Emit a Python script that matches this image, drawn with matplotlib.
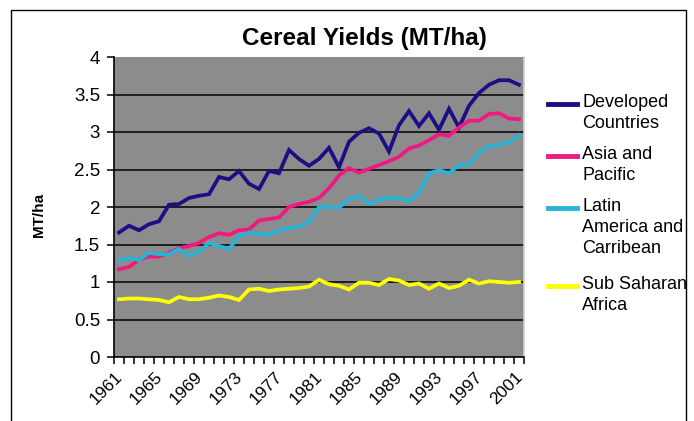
import matplotlib
matplotlib.use("Agg")
import matplotlib.pyplot as plt
import matplotlib.transforms as mtransforms
from matplotlib.lines import Line2D
from matplotlib.patches import Rectangle

plt.rcParams['font.family'] = ['Liberation Sans', 'DejaVu Sans']

years = list(range(1961, 2002))
developed = [1.66, 1.75, 1.69, 1.77, 1.81, 2.03, 2.04, 2.12, 2.15, 2.17, 2.40, 2.37, 2.48,
             2.31, 2.24, 2.48, 2.45, 2.76, 2.64, 2.55, 2.64, 2.79, 2.53, 2.87, 2.99, 3.05,
             2.98, 2.74, 3.09, 3.28, 3.08, 3.25, 3.03, 3.31, 3.06, 3.35, 3.52, 3.63, 3.69,
             3.69, 3.63]
asia = [1.17, 1.20, 1.30, 1.34, 1.34, 1.39, 1.45, 1.48, 1.52, 1.60, 1.65, 1.63, 1.69,
        1.70, 1.82, 1.84, 1.86, 2.00, 2.04, 2.07, 2.12, 2.25, 2.42, 2.52, 2.46, 2.51,
        2.56, 2.61, 2.67, 2.78, 2.82, 2.89, 2.97, 2.95, 3.06, 3.15, 3.15, 3.24, 3.25,
        3.18, 3.17]
latin = [1.28, 1.33, 1.29, 1.39, 1.37, 1.37, 1.44, 1.35, 1.40, 1.52, 1.48, 1.44, 1.61,
         1.66, 1.64, 1.63, 1.69, 1.72, 1.74, 1.80, 2.00, 2.00, 1.99, 2.11, 2.15, 2.04,
         2.10, 2.12, 2.12, 2.08, 2.19, 2.45, 2.49, 2.45, 2.56, 2.57, 2.72, 2.81, 2.83,
         2.86, 2.96]
africa = [0.77, 0.78, 0.78, 0.77, 0.76, 0.73, 0.80, 0.77, 0.77, 0.79, 0.82, 0.80, 0.76,
          0.90, 0.91, 0.88, 0.90, 0.91, 0.92, 0.94, 1.03, 0.97, 0.95, 0.90, 0.99, 0.99,
          0.96, 1.04, 1.02, 0.96, 0.98, 0.91, 0.98, 0.92, 0.95, 1.03, 0.98, 1.01, 1.00,
          0.99, 1.00]
series_names = ["Developed\nCountries", "Asia and\nPacific", "Latin\nAmerica and\nCarribean",
                "Sub Saharan\nAfrica"]
colors = ["#1c0f85", "#f0197f", "#28b4d6", "#ffff00"]
yticks = [0, 0.5, 1, 1.5, 2, 2.5, 3, 3.5, 4]
ytick_labels = ["0", "0.5", "1", "1.5", "2", "2.5", "3", "3.5", "4"]
xlabel_years = list(range(1961, 2002, 4))

W, H = 694, 421
fig = plt.figure(figsize=(W / 100, H / 100), dpi=100)
fig.patch.set_facecolor("white")

# outer frame
fig.patches.append(Rectangle((10.5 / W, -0.05), (686 - 10.5) / W, 1.05 - 10 / H,
                             transform=fig.transFigure, fill=False,
                             edgecolor="black", linewidth=1.0))

left, right, top, bottom = 114, 524, 57, 357
ax = fig.add_axes([left / W, (H - bottom) / H, (right - left) / W, (bottom - top) / H])
ax.set_facecolor("#8c8c8c")

x = list(range(len(years)))
for vals, c in zip([developed, asia, latin, africa], colors):
    ax.plot(x, vals, color=c, linewidth=2.7, solid_joinstyle="miter", zorder=3)

ax.set_xlim(-0.5, len(years) - 0.5)
ax.set_ylim(0, 4)
ax.set_yticks(yticks)
ax.set_yticklabels(ytick_labels, fontsize=13.5)
for yv in yticks[1:-1]:
    ax.axhline(yv, color="black", linewidth=1.1, zorder=1)

ax.set_xticks([years.index(y) for y in xlabel_years])
ax.set_xticklabels([str(y) for y in xlabel_years], rotation=45, ha="right", va="top",
                   rotation_mode="anchor", fontsize=12.5)
ax.set_xticks([i - 0.5 for i in range(len(years) + 1)], minor=True)
ax.tick_params(axis="x", which="major", length=0, pad=9)
ax.tick_params(axis="x", which="minor", length=5, width=1.1, direction="out", color="black")
ax.tick_params(axis="y", length=5, width=1.1, direction="out", pad=5, color="black")
offset = mtransforms.ScaledTranslation(-4 / 100, 0, fig.dpi_scale_trans)
for lbl in ax.get_xticklabels():
    lbl.set_transform(lbl.get_transform() + offset)

for s in ["left", "bottom"]:
    ax.spines[s].set_color("black")
    ax.spines[s].set_linewidth(1.2)
ax.spines["top"].set_visible(False)
ax.spines["right"].set_color("#d0d0d0")
ax.spines["right"].set_linewidth(1.2)

fig.text(39 / W, 1 - 215 / H, "MT/ha", rotation=90, ha="center", va="center",
         fontsize=11, fontweight="bold")

fig.text(364 / W, 1 - 38 / H, "Cereal Yields (MT/ha)", ha="center", va="center",
         fontsize=17.5, fontweight="bold")

# legend (manual)
legend_tops = [104, 156, 208, 286]
for name, c, yt in zip(series_names, colors, legend_tops):
    fig.add_artist(Line2D([548 / W, 577 / W], [1 - yt / H, 1 - yt / H], color=c,
                          linewidth=3.5, transform=fig.transFigure))
    fig.text(582 / W, 1 - (yt - 10) / H, name, ha="left", va="top", fontsize=13,
             linespacing=1.3)

fig.savefig("out.png", dpi=100)
